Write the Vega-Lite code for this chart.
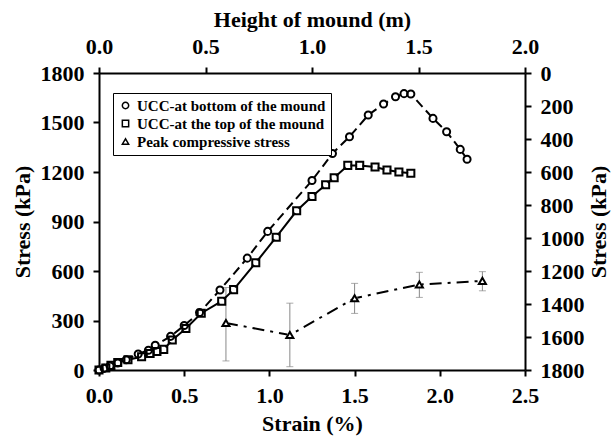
{
  "$schema": "https://vega.github.io/schema/vega-lite/v6.json",
  "description": "Stress-strain curves of UCC samples with peak compressive stress along mound height.",
  "width": 426,
  "height": 297,
  "autosize": {"type": "none"},
  "padding": {"left": 99, "top": 73, "right": 90, "bottom": 67},
  "background": "white",
  "config": {
    "view": {"stroke": null},
    "font": "Times New Roman, Liberation Serif, serif",
    "axis": {
      "labelFont": "Times New Roman, Liberation Serif, serif", "titleFont": "Times New Roman, Liberation Serif, serif",
      "labelFontSize": 22, "titleFontSize": 22,
      "labelFontWeight": "bold", "titleFontWeight": "bold",
      "labelColor": "black", "titleColor": "black",
      "domainColor": "black", "domainWidth": 2,
      "tickColor": "black", "tickWidth": 2, "tickSize": 6,
      "labelPadding": 9, "grid": false,
      "labelFlush": false, "labelOverlap": false
    }
  },
  "datasets": {
    "points": [
      {"series": "UCC-at bottom of the mound", "strain": 0.00, "stress": 0},
      {"series": "UCC-at bottom of the mound", "strain": 0.03, "stress": 10},
      {"series": "UCC-at bottom of the mound", "strain": 0.065, "stress": 24},
      {"series": "UCC-at bottom of the mound", "strain": 0.11, "stress": 42},
      {"series": "UCC-at bottom of the mound", "strain": 0.16, "stress": 62},
      {"series": "UCC-at bottom of the mound", "strain": 0.23, "stress": 97},
      {"series": "UCC-at bottom of the mound", "strain": 0.29, "stress": 120},
      {"series": "UCC-at bottom of the mound", "strain": 0.33, "stress": 150},
      {"series": "UCC-at bottom of the mound", "strain": 0.42, "stress": 204},
      {"series": "UCC-at bottom of the mound", "strain": 0.50, "stress": 270},
      {"series": "UCC-at bottom of the mound", "strain": 0.59, "stress": 348},
      {"series": "UCC-at bottom of the mound", "strain": 0.71, "stress": 485},
      {"series": "UCC-at bottom of the mound", "strain": 0.87, "stress": 678},
      {"series": "UCC-at bottom of the mound", "strain": 0.99, "stress": 840},
      {"series": "UCC-at bottom of the mound", "strain": 1.25, "stress": 1148},
      {"series": "UCC-at bottom of the mound", "strain": 1.37, "stress": 1312},
      {"series": "UCC-at bottom of the mound", "strain": 1.47, "stress": 1414},
      {"series": "UCC-at bottom of the mound", "strain": 1.58, "stress": 1545},
      {"series": "UCC-at bottom of the mound", "strain": 1.67, "stress": 1612},
      {"series": "UCC-at bottom of the mound", "strain": 1.74, "stress": 1656},
      {"series": "UCC-at bottom of the mound", "strain": 1.79, "stress": 1675},
      {"series": "UCC-at bottom of the mound", "strain": 1.83, "stress": 1673},
      {"series": "UCC-at bottom of the mound", "strain": 1.96, "stress": 1525},
      {"series": "UCC-at bottom of the mound", "strain": 2.04, "stress": 1444},
      {"series": "UCC-at bottom of the mound", "strain": 2.12, "stress": 1337},
      {"series": "UCC-at bottom of the mound", "strain": 2.16, "stress": 1277},
      {"series": "UCC-at the top of the mound", "strain": 0.00, "stress": 0},
      {"series": "UCC-at the top of the mound", "strain": 0.04, "stress": 12},
      {"series": "UCC-at the top of the mound", "strain": 0.07, "stress": 28},
      {"series": "UCC-at the top of the mound", "strain": 0.11, "stress": 45},
      {"series": "UCC-at the top of the mound", "strain": 0.17, "stress": 62},
      {"series": "UCC-at the top of the mound", "strain": 0.25, "stress": 80},
      {"series": "UCC-at the top of the mound", "strain": 0.30, "stress": 100},
      {"series": "UCC-at the top of the mound", "strain": 0.34, "stress": 112},
      {"series": "UCC-at the top of the mound", "strain": 0.38, "stress": 125},
      {"series": "UCC-at the top of the mound", "strain": 0.43, "stress": 182},
      {"series": "UCC-at the top of the mound", "strain": 0.51, "stress": 252},
      {"series": "UCC-at the top of the mound", "strain": 0.60, "stress": 344},
      {"series": "UCC-at the top of the mound", "strain": 0.72, "stress": 417},
      {"series": "UCC-at the top of the mound", "strain": 0.79, "stress": 487},
      {"series": "UCC-at the top of the mound", "strain": 0.92, "stress": 650},
      {"series": "UCC-at the top of the mound", "strain": 1.04, "stress": 805},
      {"series": "UCC-at the top of the mound", "strain": 1.16, "stress": 965},
      {"series": "UCC-at the top of the mound", "strain": 1.25, "stress": 1052},
      {"series": "UCC-at the top of the mound", "strain": 1.33, "stress": 1123},
      {"series": "UCC-at the top of the mound", "strain": 1.38, "stress": 1165},
      {"series": "UCC-at the top of the mound", "strain": 1.46, "stress": 1240},
      {"series": "UCC-at the top of the mound", "strain": 1.53, "stress": 1240},
      {"series": "UCC-at the top of the mound", "strain": 1.62, "stress": 1230},
      {"series": "UCC-at the top of the mound", "strain": 1.69, "stress": 1212},
      {"series": "UCC-at the top of the mound", "strain": 1.76, "stress": 1200},
      {"series": "UCC-at the top of the mound", "strain": 1.83, "stress": 1192},
      {"series": "Peak compressive stress", "strain": 0.745, "stress": 285, "lo": 55, "hi": 500},
      {"series": "Peak compressive stress", "strain": 1.12, "stress": 212, "lo": 20, "hi": 405},
      {"series": "Peak compressive stress", "strain": 1.50, "stress": 435, "lo": 343, "hi": 525},
      {"series": "Peak compressive stress", "strain": 1.88, "stress": 518, "lo": 440, "hi": 592},
      {"series": "Peak compressive stress", "strain": 2.25, "stress": 540, "lo": 480, "hi": 596}
    ],
    "frame": [
      {"height": 0, "stress": 0},
      {"height": 2, "stress": 1800}
    ]
  },
  "layer": [
    {
      "data": {"name": "points"},
      "layer": [
        {
          "transform": [{"filter": "datum.lo != null"}],
          "mark": {"type": "errorbar", "color": "#888888", "thickness": 1, "ticks": {"size": 7}},
          "encoding": {
            "x": {"field": "strain", "type": "quantitative", "title": "Strain (%)"},
            "y": {"field": "lo", "type": "quantitative", "title": "Stress (kPa)"},
            "y2": {"field": "hi"}
          }
        },
        {
          "transform": [{"filter": "datum.series === 'UCC-at bottom of the mound'"}],
          "mark": {"type": "line", "color": "black", "strokeWidth": 2, "strokeDash": [9, 5]},
          "encoding": {
            "x": {"field": "strain", "type": "quantitative", "title": "Strain (%)"},
            "y": {"field": "stress", "type": "quantitative", "title": "Stress (kPa)"}
          }
        },
        {
          "transform": [{"filter": "datum.series === 'UCC-at the top of the mound'"}],
          "mark": {"type": "line", "color": "black", "strokeWidth": 2},
          "encoding": {
            "x": {"field": "strain", "type": "quantitative", "title": "Strain (%)"},
            "y": {"field": "stress", "type": "quantitative", "title": "Stress (kPa)"}
          }
        },
        {
          "transform": [{"filter": "datum.series === 'Peak compressive stress'"}],
          "mark": {"type": "line", "color": "black", "strokeWidth": 2, "strokeDash": [12, 6, 3, 6]},
          "encoding": {
            "x": {"field": "strain", "type": "quantitative", "title": "Strain (%)"},
            "y": {"field": "stress", "type": "quantitative", "title": "Stress (kPa)"}
          }
        },
        {
          "mark": {"type": "point", "shape": "circle", "filled": true, "color": "white", "opacity": 1, "size": 30},
          "encoding": {
            "x": {"field": "strain", "type": "quantitative", "title": "Strain (%)"},
            "y": {"field": "stress", "type": "quantitative", "title": "Stress (kPa)"}
          }
        },
        {
          "mark": {"type": "point", "filled": false, "color": "black", "opacity": 1, "strokeWidth": 2, "size": 50},
          "encoding": {
            "x": {
              "field": "strain", "type": "quantitative", "title": "Strain (%)",
              "scale": {"domain": [0, 2.5], "nice": false},
              "axis": {"orient": "bottom", "values": [0, 0.5, 1, 1.5, 2, 2.5], "format": ".1f", "titlePadding": 7}
            },
            "y": {
              "field": "stress", "type": "quantitative", "title": "Stress (kPa)",
              "scale": {"domain": [0, 1800], "nice": false},
              "axis": {"orient": "left", "values": [0, 300, 600, 900, 1200, 1500, 1800], "format": "d", "titlePadding": 6}
            },
            "shape": {
              "field": "series", "type": "nominal",
              "scale": {
                "domain": ["UCC-at bottom of the mound", "UCC-at the top of the mound", "Peak compressive stress"],
                "range": ["circle", "square", "triangle-up"]
              },
              "legend": {
                "title": null,
                "orient": "none",
                "legendX": 14,
                "legendY": 20,
                "padding": 5,
                "strokeColor": "black",
                "fillColor": "white",
                "labelFont": "Times New Roman, Liberation Serif, serif",
                "labelFontWeight": "bold",
                "labelFontSize": 15,
                "labelColor": "black",
                "labelLimit": 300,
                "labelOffset": 4,
                "rowPadding": 2,
                "symbolSize": 40,
                "symbolStrokeWidth": 1.5
              }
            }
          }
        }
      ]
    },
    {
      "data": {"name": "frame"},
      "mark": {"type": "point", "opacity": 0},
      "encoding": {
        "x": {
          "field": "height", "type": "quantitative", "title": "Height of mound (m)",
          "scale": {"domain": [0, 2], "nice": false},
          "axis": {"orient": "top", "values": [0, 0.5, 1, 1.5, 2], "format": ".1f", "titlePadding": 4}
        },
        "y": {
          "field": "stress", "type": "quantitative", "title": "Stress (kPa)",
          "scale": {"domain": [0, 1800], "nice": false, "reverse": true},
          "axis": {"orient": "right", "values": [0, 200, 400, 600, 800, 1000, 1200, 1400, 1600, 1800], "format": "d", "titleAngle": 270, "titleBaseline": "top", "titlePadding": 4}
        }
      }
    }
  ],
  "resolve": {
    "scale": {"x": "independent", "y": "independent"},
    "axis": {"x": "independent", "y": "independent"}
  }
}
